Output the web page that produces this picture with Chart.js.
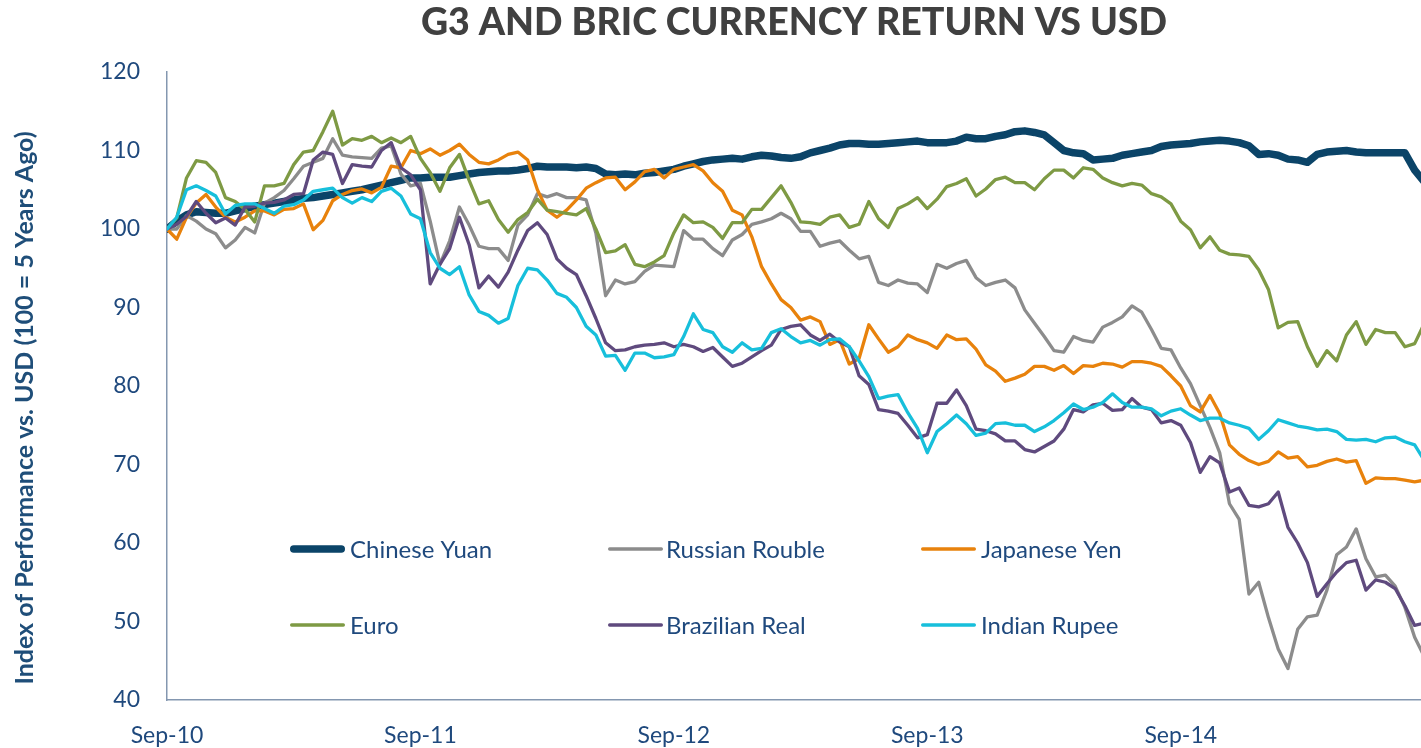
<!DOCTYPE html>
<html><head><meta charset="utf-8">
<script src="https://cdn.jsdelivr.net/npm/chart.js@4.4.1/dist/chart.umd.min.js"></script>
<style>html,body{margin:0;padding:0;background:#fff}#wrap{width:1421px;height:748px;position:relative}</style>
</head><body><div id="wrap"><canvas id="c"></canvas></div>
<script>
// ---- data (fortnightly index, 100 = Sep-10) ----
const tickLabels = ['Sep-10', 'Sep-11', 'Sep-12', 'Sep-13', 'Sep-14'];
const tickWeeks = [0, 52, 104, 156, 208];
const seriesNames = ['Chinese Yuan', 'Russian Rouble', 'Japanese Yen', 'Euro', 'Brazilian Real', 'Indian Rupee'];
const chartTitle = 'G3 AND BRIC CURRENCY RETURN VS USD';
const yAxisTitle = 'Index of Performance vs. USD (100 = 5 Years Ago)';

const yuan = [
  100, 101, 101.8, 102.2, 102.1, 102, 102, 102.3, 102.6, 102.9,
  103.1, 103.3, 103.5, 103.7, 103.9, 104, 104.2, 104.4, 104.6, 104.8,
  105, 105.3, 105.6, 105.9, 106.2, 106.5, 106.5, 106.6, 106.6, 106.6,
  106.8, 107, 107.2, 107.3, 107.4, 107.4, 107.5, 107.7, 108, 107.9,
  107.9, 107.9, 107.8, 107.9, 107.7, 107, 106.9, 107, 106.9, 107.1,
  107.2, 107.4, 107.6, 108, 108.3, 108.6, 108.8, 108.9, 109, 108.9,
  109.2, 109.4, 109.3, 109.1, 109, 109.2, 109.7, 110, 110.3, 110.7,
  110.9, 110.9, 110.8, 110.8, 110.9, 111, 111.1, 111.2, 111, 111,
  111, 111.2, 111.7, 111.5, 111.5, 111.8, 112, 112.4, 112.5, 112.3,
  112, 111, 110, 109.7, 109.6, 108.8, 108.9, 109, 109.4, 109.6,
  109.8, 110, 110.5, 110.7, 110.8, 110.9, 111.1, 111.2, 111.3, 111.2,
  111, 110.6, 109.5, 109.6, 109.4, 108.9, 108.8, 108.5, 109.5, 109.8,
  109.9, 110, 109.8, 109.7, 109.7, 109.7, 109.7, 109.7, 107.5, 106
];
const rouble = [
  100, 100, 101.7, 101, 100, 99.4, 97.6, 98.6, 100.2, 99.5,
  103.3, 104, 104.9, 106.4, 108, 108.5, 109, 111.5, 109.4, 109.2,
  109.1, 109, 110.3, 110.6, 107, 105.5, 105.8, 101, 95.5, 98.5,
  102.8, 100.5, 97.8, 97.5, 97.5, 96, 100.5, 101.8, 104.5, 104.1,
  104.5, 104, 104, 103.7, 99.5, 91.5, 93.5, 93, 93.3, 94.6,
  95.4, 95.3, 95.2, 99.8, 98.7, 98.7, 97.5, 96.6, 98.6, 99.3,
  100.6, 100.9, 101.3, 102, 101.3, 99.7, 99.7, 97.8, 98.2, 98.5,
  97.3, 96.2, 96.5, 93.2, 92.8, 93.5, 93.1, 93, 91.9, 95.5,
  95, 95.6, 96, 93.8, 92.8, 93.2, 93.5, 92.5, 89.7, 88,
  86.3, 84.5, 84.3, 86.3, 85.8, 85.6, 87.5, 88.1, 88.8, 90.2,
  89.4, 87.2, 84.8, 84.6, 82.3, 80.3, 77.5, 74.7, 71.5, 65,
  63, 53.5, 55, 50.5, 46.5, 44, 49, 50.6, 50.8, 54,
  58.5, 59.5, 61.8, 58, 55.7, 55.9, 54.5, 51.8, 48, 45.5
];
const yen = [
  100, 98.7, 101.5, 103.3, 104.4, 102.8, 101.5, 100.9, 101.5, 102.3,
  102.3, 101.8, 102.5, 102.6, 103.2, 99.9, 101.1, 103.6, 104.4, 104.9,
  105.1, 104.6, 105.3, 108, 107.8, 110, 109.6, 110.2, 109.4, 110,
  110.8, 109.5, 108.5, 108.3, 108.8, 109.5, 109.8, 108.8, 105, 102.4,
  101.5, 102.4, 103.7, 105.2, 105.9, 106.5, 106.6, 105, 106, 107.3,
  107.6, 106.5, 107.6, 107.9, 108.2, 107.4, 105.9, 104.8, 102.4, 101.8,
  99, 95.2, 93, 91, 90, 88.4, 88.8, 88.2, 85.3, 85.9,
  82.8, 83.5, 87.8, 86, 84.3, 85, 86.5, 85.9, 85.5, 84.8,
  86.5, 85.9, 86, 84.7, 82.7, 81.9, 80.6, 81, 81.5, 82.5,
  82.5, 82, 82.6, 81.6, 82.6, 82.5, 82.9, 82.8, 82.4, 83.1,
  83.1, 82.9, 82.5, 81.3, 80, 77.5, 76.7, 78.8, 76.5, 72.5,
  71.3, 70.5, 70, 70.4, 71.6, 70.8, 71, 69.7, 69.9, 70.4,
  70.7, 70.3, 70.5, 67.6, 68.3, 68.2, 68.2, 68, 67.8, 68
];
const euro = [
  100, 101.4, 106.5, 108.7, 108.5, 107.2, 104, 103.5, 102.5, 100.9,
  105.5, 105.5, 105.8, 108.2, 109.8, 110, 112.4, 115, 110.7, 111.5,
  111.3, 111.8, 111, 111.6, 111, 111.8, 109, 107.2, 104.8, 107.8,
  109.5, 106.2, 103.2, 103.6, 101.2, 99.6, 101.2, 102.1, 103.8, 102.4,
  102.2, 102, 101.8, 102.6, 100, 97, 97.2, 98, 95.5, 95.2,
  95.8, 96.6, 99.5, 101.8, 100.8, 100.9, 100.2, 98.8, 100.8, 100.8,
  102.5, 102.5, 104, 105.5, 103.4, 100.9, 100.8, 100.6, 101.5, 101.8,
  100.2, 100.6, 103.5, 101.3, 100.2, 102.6, 103.2, 104, 102.6, 103.8,
  105.4, 105.8, 106.4, 104.2, 105.1, 106.3, 106.6, 105.9, 105.9, 105,
  106.4, 107.5, 107.5, 106.5, 107.8, 107.6, 106.5, 105.9, 105.5, 105.8,
  105.6, 104.5, 104.1, 103.2, 101, 99.9, 97.6, 99, 97.3, 96.8,
  96.7, 96.5, 94.8, 92.3, 87.4, 88.1, 88.2, 85, 82.5, 84.5,
  83.2, 86.5, 88.2, 85.3, 87.2, 86.8, 86.8, 85, 85.4, 88
];
const real = [
  100, 100.6, 101.6, 103.5, 102, 100.8, 101.4, 100.5, 102.8, 102.9,
  103.3, 103.4, 103.7, 104.4, 104.5, 108.8, 109.8, 109.5, 105.8, 108.2,
  108, 107.9, 110, 111, 107.8, 106.9, 105, 93, 95.5, 97.5,
  101.5, 98, 92.5, 94, 92.6, 94.5, 97.3, 99.8, 100.8, 99.3,
  96.2, 95, 94.2, 91.5, 88.6, 85.5, 84.5, 84.6, 85, 85.2,
  85.3, 85.5, 85, 85.3, 85, 84.4, 84.9, 83.7, 82.5, 82.9,
  83.7, 84.5, 85.2, 87.2, 87.6, 87.8, 86.5, 85.8, 86.6, 85.6,
  85, 81.3, 80.2, 77, 76.8, 76.5, 75, 73.4, 73.8, 77.8,
  77.8, 79.5, 77.5, 74.5, 74.3, 73.9, 73, 73, 71.9, 71.6,
  72.3, 73, 74.5, 77, 76.7, 77.6, 77.8, 76.9, 77, 78.4,
  77.3, 77, 75.3, 75.6, 75, 72.8, 69, 71, 70.2, 66.5,
  67, 64.8, 64.6, 65, 66.5, 62, 60, 57.5, 53.2, 54.8,
  56.3, 57.5, 57.8, 54, 55.3, 55, 54.2, 52, 49.5, 49.8
];
const rupee = [
  100, 101.5, 105, 105.5, 104.9, 104.2, 101.9, 103, 103.2, 103.2,
  102.6, 102, 102.9, 103.1, 103.7, 104.8, 105, 105.2, 104, 103.3,
  104, 103.5, 104.8, 105.2, 104.2, 101.9, 101.3, 97, 95, 94.2,
  95.2, 91.6, 89.5, 89, 88, 88.6, 92.8, 95, 94.8, 93.5,
  91.8, 91.3, 90, 87.6, 86.5, 83.8, 83.9, 82, 84.2, 84.2,
  83.6, 83.7, 84, 86.3, 89.2, 87.2, 86.8, 85, 84.3, 85.5,
  84.6, 84.8, 86.8, 87.3, 86.3, 85.5, 85.8, 85.2, 85.9, 86,
  85, 83.2, 81.2, 78.4, 78.7, 78.9, 76.6, 74.6, 71.5, 74.2,
  75.2, 76.3, 75.2, 73.7, 74, 75.2, 75.3, 75, 75, 74.2,
  74.8, 75.6, 76.6, 77.7, 77, 77.3, 77.9, 79, 77.9, 77.3,
  77.3, 77.1, 76.2, 76.8, 77.1, 76.3, 75.6, 75.9, 75.9, 75.3,
  75, 74.6, 73.2, 74.3, 75.7, 75.3, 74.9, 74.7, 74.4, 74.5,
  74.2, 73.2, 73.1, 73.2, 72.9, 73.4, 73.5, 72.9, 72.5, 70.5
];

const seriesValues = [yuan, rouble, yen, euro, real, rupee];
const seriesColors = ['#0B4468', '#8C8C8C', '#E8820C', '#7E9A44', '#5F4A7E', '#17BFDB'];
const seriesWidths = [7.5, 3.3, 3.3, 3.3, 3.3, 3.3];

const weeks = yuan.map((_, i) => i * 2);

const TEXT_BLUE = '#1F497D';

const inlineLegend = {
  id: 'inlineLegend',
  afterDatasetsDraw(chart) {
    const { ctx, chartArea: a } = chart;
    const cols = [123, 441, 754];
    const rows = [477, 553];
    const textGap = [60, 58, 60];
    ctx.save();
    chart.data.datasets.forEach((ds, i) => {
      const c = i % 3, r = Math.floor(i / 3);
      const x = a.left + cols[c], y = a.top + rows[r];
      const w = ds.borderWidth;
      ctx.strokeStyle = ds.borderColor;
      ctx.lineWidth = w;
      ctx.lineCap = 'round';
      ctx.beginPath();
      ctx.moveTo(x + w / 2, y);
      ctx.lineTo(x + 55 - w / 2, y);
      ctx.stroke();
      ctx.fillStyle = TEXT_BLUE;
      ctx.font = '24px Lato';
      ctx.textBaseline = 'middle';
      ctx.textAlign = 'left';
      ctx.fillText(ds.label, x + textGap[c], y + 1);
    });
    ctx.restore();
  }
};

const yTitlePlugin = {
  id: 'yTitle',
  afterDraw(chart) {
    const { ctx, chartArea: a } = chart;
    ctx.save();
    ctx.translate(25, (a.top + a.bottom) / 2 + 22);
    ctx.rotate(-Math.PI / 2);
    ctx.fillStyle = '#1F4E79';
    ctx.font = 'bold 25px Lato';
    ctx.textAlign = 'center';
    ctx.textBaseline = 'middle';
    ctx.fillText(yAxisTitle, 0, 0);
    ctx.restore();
  }
};

const datasets = seriesNames.map((name, i) => ({
  label: name,
  data: seriesValues[i].map((v, k) => ({ x: weeks[k], y: v })),
  borderColor: seriesColors[i],
  backgroundColor: seriesColors[i],
  borderWidth: seriesWidths[i],
  pointRadius: 0,
  tension: 0,
  borderJoinStyle: 'round',
  borderCapStyle: 'round',
  fill: false,
  order: seriesNames.length - 1 - i
}));

new Chart(document.getElementById('c'), {
  type: 'line',
  data: { datasets },
  options: {
    responsive: true,
    maintainAspectRatio: false,
    animation: false,
    events: [],
    layout: { padding: 0 },
    plugins: {
      legend: { display: false },
      tooltip: { enabled: false },
      title: {
        display: true,
        fullSize: false,
        text: chartTitle,
        color: '#404040',
        font: { family: 'Lato', size: 37.5, weight: '900', lineHeight: 1.2 },
        padding: { top: 0, bottom: 27 }
      }
    },
    scales: {
      x: {
        type: 'linear',
        min: 0,
        max: 257.3,
        grid: { display: false, drawTicks: false },
        border: { display: true, color: '#8497B0', width: 1.5 },
        afterBuildTicks: (s) => { s.ticks = tickWeeks.map(v => ({ value: v })); },
        afterFit: (s) => { s.height = 48; },
        ticks: {
          autoSkip: false,
          maxRotation: 0,
          padding: 22,
          color: TEXT_BLUE,
          font: { family: 'Lato', size: 23 },
          callback: (v) => { const k = tickWeeks.indexOf(v); return k >= 0 ? tickLabels[k] : ''; }
        }
      },
      y: {
        min: 40,
        max: 120,
        grid: { display: false, drawTicks: false },
        border: { display: true, color: '#8497B0', width: 1.5 },
        afterFit: (s) => { s.width = 167; },
        ticks: {
          stepSize: 10,
          padding: 27,
          color: TEXT_BLUE,
          font: { family: 'Lato', size: 23 }
        }
      }
    }
  },
  plugins: [inlineLegend, yTitlePlugin]
});
</script>
</body></html>
